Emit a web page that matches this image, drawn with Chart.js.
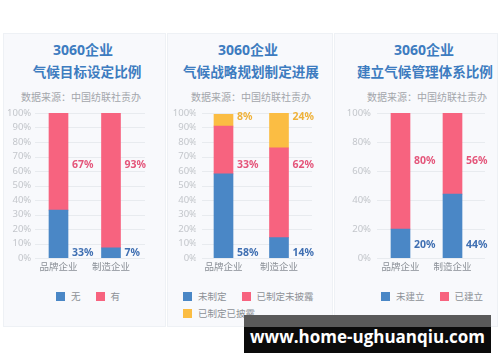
<!DOCTYPE html>
<html>
<head>
<meta charset="utf-8">
<script src="https://cdn.jsdelivr.net/npm/chart.js@4.4.0/dist/chart.umd.min.js"></script>
<style>
  body { margin: 0; width: 500px; height: 362px; background: #fff; position: relative; overflow: hidden;
         font-family: 'Noto Sans', 'Noto Sans CJK SC', sans-serif; }
  .panel { position: absolute; top: 33px; height: 294px; background: #f8f9fc; border: 1px solid #eef1f5; box-sizing: border-box; }
  .txt { position: absolute; white-space: nowrap; text-align: center; transform: translateX(-50%); }
  .t1, .t2 { color: #3d7cc0; font-weight: bold; font-size: 14px; line-height: 16px; }
  .t2 { font-size: 13.6px; }
  .src { color: #a3a6ab; font-size: 10px; line-height: 12px; }
  canvas { position: absolute; top: 100px; }
  .legend { position: absolute; top: 288px; display: flex; flex-wrap: wrap; font-size: 9.5px; color: #8d9197; line-height: 17px; }
  .legend span.item { display: flex; align-items: center; margin-right: 15px; white-space: nowrap; }
  .legend i { display: inline-block; width: 9px; height: 9px; margin-right: 6px; }
  .mark { position: absolute; left: 244px; top: 315px; width: 247px; height: 38px; white-space: nowrap;
          background: linear-gradient(#5a5a5a 0, #5a5a5a 12px, #0b0b0b 12px); color: #fff;
          font: bold 17px 'Open Sans', 'DejaVu Sans', sans-serif; line-height: 44px; text-align: center; }
</style>
</head>
<body>
<div class="panel" style="left:3px;width:163px"></div>
<div class="panel" style="left:167px;width:166px"></div>
<div class="panel" style="left:334px;width:164px"></div>

<div class="txt t1" style="left:83px;top:42px">3060企业</div>
<div class="txt t2" style="left:87px;top:64px">气候目标设定比例</div>
<div class="txt src" style="left:81px;top:91px">数据来源：中国纺联社责办</div>

<div class="txt t1" style="left:248px;top:42px">3060企业</div>
<div class="txt t2" style="left:251px;top:64px">气候战略规划制定进展</div>
<div class="txt src" style="left:251px;top:91px">数据来源：中国纺联社责办</div>

<div class="txt t1" style="left:424px;top:42px">3060企业</div>
<div class="txt t2" style="left:425px;top:64px">建立气候管理体系比例</div>
<div class="txt src" style="left:427px;top:91px">数据来源：中国纺联社责办</div>

<canvas id="c1" width="162" height="180" style="left:3px"></canvas>
<canvas id="c2" width="164" height="180" style="left:168px"></canvas>
<canvas id="c3" width="162" height="180" style="left:335px"></canvas>

<div class="legend" id="l1" style="left:56px;width:105px"></div>
<div class="legend" id="l2" style="left:183px;width:160px"></div>
<div class="legend" id="l3" style="left:381px;width:130px"></div>

<div class="mark">www.home-ughuanqiu.com</div>

<script>
// categories
const categories = ['品牌企业', '制造企业'];

// chart 1 - 气候目标设定比例
const goalNo = [33, 7];
const goalYes = [67, 93];

// chart 2 - 气候战略规划制定进展
const planNone = [58, 14];
const planUndisclosed = [33, 62];
const planDisclosed = [8, 24];

// chart 3 - 建立气候管理体系比例
const sysNone = [20, 44];
const sysBuilt = [80, 56];

const BLUE = '#4a87c6', PINK = '#f7637f', YELLOW = '#fbbd43';

Chart.defaults.font.family = "'Noto Sans', 'Noto Sans CJK SC', sans-serif";

// light horizontal grid, a bit wider than the bar area
const gridLines = {
    id: 'gridLines',
    beforeDatasetsDraw: function (chart, args, opts) {
        var ctx = chart.ctx, ys = chart.scales.y, a = chart.chartArea;
        ctx.save();
        ctx.strokeStyle = '#e8ebef';
        ctx.lineWidth = 1;
        ys.ticks.forEach(function (t) {
            var py = Math.round(ys.getPixelForValue(t.value)) + 0.5;
            ctx.beginPath();
            ctx.moveTo(a.left + opts.inset, py);
            ctx.lineTo(a.right + opts.extend, py);
            ctx.stroke();
        });
        ctx.restore();
    }
};

// percentage labels to the right of each bar
const valueLabels = {
    id: 'valueLabels',
    afterDatasetsDraw: function (chart, args, opts) {
        var ctx = chart.ctx, ys = chart.scales.y;
        ctx.save();
        ctx.font = "bold 10.5px 'Noto Sans', 'Noto Sans CJK SC', sans-serif";
        ctx.textBaseline = 'middle';
        ctx.textAlign = 'left';
        chart.data.datasets.forEach(function (ds, i) {
            var meta = chart.getDatasetMeta(i);
            meta.data.forEach(function (bar, j) {
                ctx.fillStyle = ds.labelColor;
                ctx.fillText(ds.data[j] + '%', bar.x + bar.width / 2 + 4, ys.getPixelForValue(opts.levels[i]));
            });
        });
        ctx.restore();
    }
};

function makeChart(id, legendId, datasets, o) {
    var chart = new Chart(document.getElementById(id), {
        type: 'bar',
        data: { labels: categories, datasets: datasets },
        options: {
            responsive: false,
            animation: false,
            layout: { padding: { top: 13, right: o.padRight, left: 0, bottom: 0 } },
            datasets: { bar: { barThickness: 19 } },
            plugins: {
                legend: { display: false },
                tooltip: { enabled: false },
                gridLines: { inset: o.inset, extend: o.extend },
                valueLabels: { levels: o.levels }
            },
            scales: {
                x: {
                    stacked: true,
                    grid: { display: false, drawTicks: false },
                    border: { display: false },
                    ticks: { color: '#8a8f96', font: { size: 9.5 }, padding: 4 },
                    afterFit: function (s) { s.height = 22; }
                },
                y: {
                    stacked: true,
                    min: 0,
                    max: 100,
                    grid: { display: false, drawTicks: false },
                    border: { display: false },
                    ticks: {
                        stepSize: o.step,
                        color: '#c3c6cb',
                        font: { size: 9.5 },
                        padding: o.tickPad,
                        callback: function (v) { return v + '%'; }
                    },
                    afterFit: function (s) { s.width = o.axisWidth; }
                }
            }
        },
        plugins: [gridLines, valueLabels]
    });

    // html legend from the chart's datasets
    var box = document.getElementById(legendId);
    chart.data.datasets.forEach(function (ds) {
        var item = document.createElement('span');
        item.className = 'item';
        item.innerHTML = '<i style="background:' + ds.backgroundColor + '"></i>' + ds.label;
        box.appendChild(item);
    });
    return chart;
}

makeChart('c1', 'l1', [
    { label: '无', data: goalNo, backgroundColor: BLUE, labelColor: '#3f6fb2' },
    { label: '有', data: goalYes, backgroundColor: PINK, labelColor: '#e4557a' }
], { axisWidth: 29.25, padRight: 27.75, tickPad: 1, inset: 2.75, extend: 7.75, step: 10, levels: [3.5, 64] });

makeChart('c2', 'l2', [
    { label: '未制定', data: planNone, backgroundColor: BLUE, labelColor: '#3f6fb2' },
    { label: '已制定未披露', data: planUndisclosed, backgroundColor: PINK, labelColor: '#e4557a' },
    { label: '已制定已披露', data: planDisclosed, backgroundColor: YELLOW, labelColor: '#efb23a' }
], { axisWidth: 27.75, padRight: 25.25, tickPad: -1.25, inset: 6.25, extend: 5.25, step: 10, levels: [3.5, 64, 97] });

makeChart('c3', 'l3', [
    { label: '未建立', data: sysNone, backgroundColor: BLUE, labelColor: '#3f6fb2' },
    { label: '已建立', data: sysBuilt, backgroundColor: PINK, labelColor: '#e4557a' }
], { axisWidth: 39.5, padRight: 18.5, tickPad: 3.5, inset: 2.5, extend: 6.5, step: 20, levels: [9, 67] });
</script>
</body>
</html>
